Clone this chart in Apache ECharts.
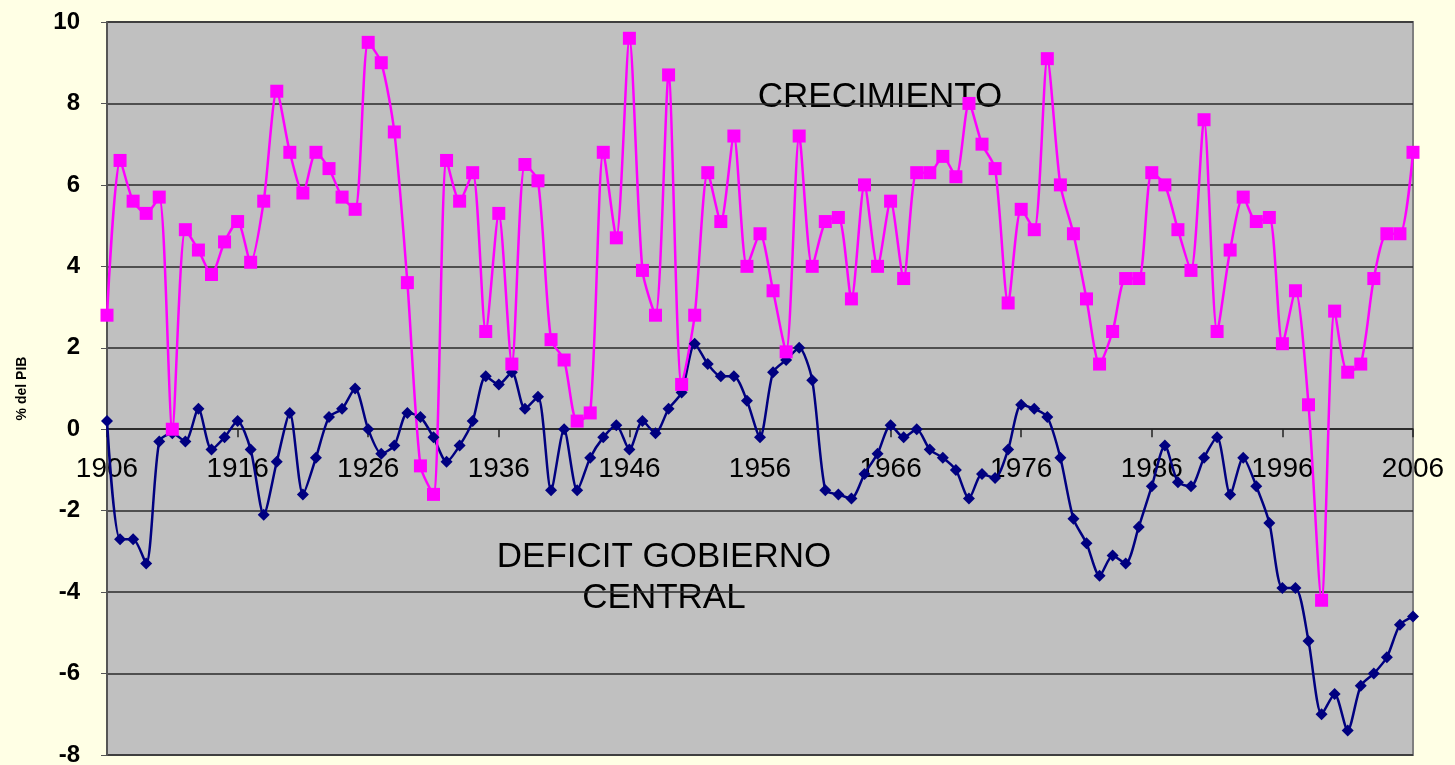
<!DOCTYPE html>
<html>
<head>
<meta charset="utf-8">
<script src="https://cdn.jsdelivr.net/npm/echarts@6/dist/echarts.min.js"></script>
<style>
  html, body { margin: 0; padding: 0; background: #FFFFE5; }
  #chart { width: 1455px; height: 765px; }
</style>
</head>
<body>
<div id="chart"></div>
<script>
  // años 1906 - 2006
  const years = [];
  for (let y = 1906; y <= 2006; y++) years.push(String(y));

  // crecimiento del PIB (%)
  const crecimiento = [
    2.8, 6.6, 5.6, 5.3, 5.7, 0.0, 4.9, 4.4, 3.8, 4.6,
    5.1, 4.1, 5.6, 8.3, 6.8, 5.8, 6.8, 6.4, 5.7, 5.4,
    9.5, 9.0, 7.3, 3.6, -0.9, -1.6, 6.6, 5.6, 6.3, 2.4,
    5.3, 1.6, 6.5, 6.1, 2.2, 1.7, 0.2, 0.4, 6.8, 4.7,
    9.6, 3.9, 2.8, 8.7, 1.1, 2.8, 6.3, 5.1, 7.2, 4.0,
    4.8, 3.4, 1.9, 7.2, 4.0, 5.1, 5.2, 3.2, 6.0, 4.0,
    5.6, 3.7, 6.3, 6.3, 6.7, 6.2, 8.0, 7.0, 6.4, 3.1,
    5.4, 4.9, 9.1, 6.0, 4.8, 3.2, 1.6, 2.4, 3.7, 3.7,
    6.3, 6.0, 4.9, 3.9, 7.6, 2.4, 4.4, 5.7, 5.1, 5.2,
    2.1, 3.4, 0.6, -4.2, 2.9, 1.4, 1.6, 3.7, 4.8, 4.8,
    6.8
  ];

  // déficit del gobierno central (% del PIB)
  const deficit = [
    0.2, -2.7, -2.7, -3.3, -0.3, -0.1, -0.3, 0.5, -0.5, -0.2,
    0.2, -0.5, -2.1, -0.8, 0.4, -1.6, -0.7, 0.3, 0.5, 1.0,
    0.0, -0.6, -0.4, 0.4, 0.3, -0.2, -0.8, -0.4, 0.2, 1.3,
    1.1, 1.4, 0.5, 0.8, -1.5, 0.0, -1.5, -0.7, -0.2, 0.1,
    -0.5, 0.2, -0.1, 0.5, 0.9, 2.1, 1.6, 1.3, 1.3, 0.7,
    -0.2, 1.4, 1.7, 2.0, 1.2, -1.5, -1.6, -1.7, -1.1, -0.6,
    0.1, -0.2, 0.0, -0.5, -0.7, -1.0, -1.7, -1.1, -1.2, -0.5,
    0.6, 0.5, 0.3, -0.7, -2.2, -2.8, -3.6, -3.1, -3.3, -2.4,
    -1.4, -0.4, -1.3, -1.4, -0.7, -0.2, -1.6, -0.7, -1.4, -2.3,
    -3.9, -3.9, -5.2, -7.0, -6.5, -7.4, -6.3, -6.0, -5.6, -4.8,
    -4.6
  ];

  const yMin = -8;
  const yMax = 10;
  const gridTop = 22;
  const gridBottom = 10;
  const chartH = 765;

  // el eje X va sobre la línea del 0
  const plotH = chartH - gridTop - gridBottom;
  const zeroOffset = -plotH * (0 - yMin) / (yMax - yMin);

  const chart = echarts.init(document.getElementById('chart'));

  const option = {
    backgroundColor: '#FFFFE5',
    animation: false,
    grid: {
      left: 107,
      right: 42,
      top: gridTop,
      bottom: gridBottom,
      outerBoundsMode: 'none',
      containLabel: false,
      show: true,
      backgroundColor: '#C0C0C0',
      borderColor: '#808080',
      borderWidth: 2,
    },
    xAxis: {
      type: 'category',
      data: years,
      boundaryGap: false,
      offset: zeroOffset,
      axisLine: { onZero: false, lineStyle: { color: '#222', width: 1.5 } },
      axisTick: {
        show: true,
        interval: 9,
        length: 8,
        lineStyle: { color: '#222', width: 1.5 },
      },
      axisLabel: {
        interval: 9,
        margin: 26,
        color: '#000',
        fontFamily: 'Liberation Sans, Arial',
        fontSize: 28,
        showMaxLabel: true,
      },
      splitLine: { show: false },
    },
    yAxis: {
      type: 'value',
      min: yMin,
      max: yMax,
      interval: 2,
      name: '% del PIB',
      nameLocation: 'middle',
      nameGap: 78,
      nameTextStyle: {
        color: '#000',
        fontFamily: 'Liberation Sans, Arial',
        fontWeight: 'bold',
        fontSize: 14,
      },
      axisLine: { show: true, lineStyle: { color: '#555', width: 2 } },
      axisTick: { show: true, length: 6, lineStyle: { color: '#555' } },
      axisLabel: {
        margin: 27,
        color: '#000',
        fontFamily: 'Liberation Sans, Arial',
        fontWeight: 'bold',
        fontSize: 24,
      },
      splitLine: { show: true, lineStyle: { color: '#2a2a2a', width: 1.5 } },
    },
    series: [
      {
        name: 'DEFICIT GOBIERNO CENTRAL',
        type: 'line',
        data: deficit,
        smooth: 0.25,
        showAllSymbol: true,
        symbol: 'diamond',
        symbolSize: 12,
        lineStyle: { color: '#000080', width: 2.5 },
        itemStyle: { color: '#000080' },
      },
      {
        name: 'CRECIMIENTO',
        type: 'line',
        data: crecimiento,
        smooth: 0.25,
        showAllSymbol: true,
        symbol: 'rect',
        symbolSize: 13,
        lineStyle: { color: '#FF00FF', width: 2.5 },
        itemStyle: { color: '#FF00FF' },
      },
    ],
    graphic: [
      {
        type: 'text',
        x: 880,
        y: 97,
        style: {
          text: 'CRECIMIENTO',
          fill: '#000',
          font: '35px "Liberation Sans", Arial',
          align: 'center',
          verticalAlign: 'middle',
        },
      },
      {
        type: 'text',
        x: 664,
        y: 578,
        style: {
          text: 'DEFICIT GOBIERNO\nCENTRAL',
          fill: '#000',
          font: '35px "Liberation Sans", Arial',
          align: 'center',
          verticalAlign: 'middle',
          lineHeight: 41,
        },
      },
    ],
  };

  chart.setOption(option);
</script>
</body>
</html>
